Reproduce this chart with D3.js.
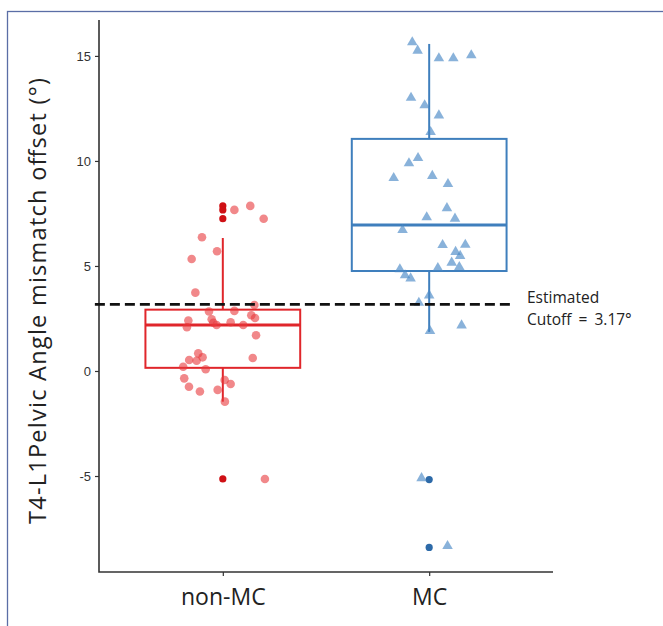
<!DOCTYPE html>
<html><head><meta charset="utf-8">
<script src="https://cdn.jsdelivr.net/npm/d3@7"></script>
<style>html,body{margin:0;padding:0;background:#fff;}svg{display:block;}</style>
</head><body>
<svg id="chart" width="663" height="626"></svg>
<script>
// ---------- data ----------
const categories = ["non-MC", "MC"];
const yTicks = [-5, 0, 5, 10, 15];
const cutoffValue = 3.17;
const cutoffLabel = ["Estimated", "Cutoff = 3.17\u00B0"];
const yLabel = "T4-L1Pelvic Angle mismatch offset (\u00B0)";

// box statistics [whiskerLow, q1, median, q3, whiskerHigh]
const boxNonMC = [-1.46, 0.15, 2.19, 2.92, 6.33];
const boxMC = [1.86, 4.76, 6.95, 11.05, 15.57];

// outliers (drawn at category centre)
const outliersNonMC = [7.86, 7.67, 7.25, -5.14];
const outliersMC = [-5.17, -8.40];

// jittered observations: x position on category axis (1 = non-MC, 2 = MC), value
const nonMCx = [1.056,1.133,1.198,0.899,0.972,0.849,0.867,1.153,0.933,1.056,1.138,1.156,0.833,0.826,0.946,0.954,0.970,1.038,1.099,1.161,0.881,0.902,0.837,0.873,1.145,0.808,0.917,0.813,1.009,1.038,0.836,0.889,0.975,1.010,1.204];
const nonMCy = [7.67,7.86,7.25,6.37,5.70,5.33,3.73,3.14,2.83,2.86,2.65,2.52,2.40,2.08,2.46,2.30,2.19,2.32,2.19,1.70,0.84,0.65,0.52,0.49,0.62,0.20,0.08,-0.35,-0.43,-0.62,-0.75,-0.98,-0.90,-1.46,-5.14];
const mcX = [1.918,1.944,2.047,2.117,2.204,1.912,1.978,2.047,2.007,1.946,1.902,1.828,2.015,2.091,2.086,1.988,2.125,1.871,2.065,2.175,2.128,2.150,2.109,2.146,2.042,1.858,1.883,1.910,2.000,1.950,2.157,2.004,1.963,2.089];
const mcY = [15.65,15.25,14.89,14.89,15.03,13.01,12.65,12.17,11.38,10.14,9.89,9.19,9.29,8.90,7.75,7.32,7.25,6.71,6.00,6.01,5.67,5.48,5.16,4.95,4.90,4.84,4.56,4.41,3.60,3.25,2.17,1.90,-5.10,-8.33];

// ---------- layout ----------
const svg = d3.select("#chart");
const pL = 99, pR = 553, pT = 20, pB = 572;
const x = d3.scaleLinear().domain([0.4, 2.6]).range([pL, pR]);
const y = d3.scaleLinear().domain([-9.57, 16.71]).range([pB, pT]);

const red = "#e0262b", redDark = "#cf1015", redFill = "#e8383c";
const blue = "#3f7fbd", blueDark = "#2d6aa8", blueFill = "#4a88c6";

// frame
svg.append("rect").attr("x", 7.5).attr("y", 11.5).attr("width", 800).attr("height", 800)
  .attr("fill", "none").attr("stroke", "#5b6ea6").attr("stroke-width", 1.3);

// axes
const yAxis = d3.axisLeft(y).tickValues(yTicks).tickSize(4).tickPadding(4).tickFormat((d) => String(d));
const gy = svg.append("g").attr("transform", `translate(${pL},0)`).call(yAxis);
gy.select(".domain").remove();
gy.selectAll(".tick line").attr("stroke", "#333").attr("stroke-width", 1.2);
gy.selectAll(".tick text").attr("fill", "#333").style("font-family", "'Liberation Sans', Arial, sans-serif").style("font-size", "13px");

const xAxis = d3.axisBottom(x).tickValues([1, 2]).tickSize(4).tickPadding(13).tickFormat((d) => categories[d - 1]);
const gx = svg.append("g").attr("transform", `translate(0,${pB})`).call(xAxis);
gx.select(".domain").remove();
gx.selectAll(".tick line").attr("stroke", "#333").attr("stroke-width", 1.2);
gx.selectAll(".tick text").attr("fill", "#222").style("font-family", "'Open Sans', sans-serif").style("font-size", "23px");

svg.append("path").attr("d", `M${pL},${pT}V${pB}H${pR}`)
  .attr("fill", "none").attr("stroke", "#333").attr("stroke-width", 1.6);

// y label
svg.append("text").attr("transform", `translate(46,301) rotate(-90)`)
  .attr("text-anchor", "middle").attr("fill", "#222")
  .attr("textLength", 446).attr("lengthAdjust", "spacing")
  .style("font-family", "'Open Sans', sans-serif").style("font-size", "23.5px").text(yLabel);

// boxes
function drawBox(cx, s, col) {
  const w = 0.75 / 2;
  const g = svg.append("g").attr("fill", "none").attr("stroke", col);
  g.append("line").attr("x1", x(cx)).attr("x2", x(cx)).attr("y1", y(s[3])).attr("y2", y(s[4])).attr("stroke-width", 2);
  g.append("line").attr("x1", x(cx)).attr("x2", x(cx)).attr("y1", y(s[0])).attr("y2", y(s[1])).attr("stroke-width", 2);
  g.append("rect").attr("x", x(cx - w)).attr("y", y(s[3])).attr("width", x(cx + w) - x(cx - w)).attr("height", y(s[1]) - y(s[3])).attr("stroke-width", 2);
  g.append("line").attr("x1", x(cx - w)).attr("x2", x(cx + w)).attr("y1", y(s[2])).attr("y2", y(s[2])).attr("stroke-width", 3.2);
}
drawBox(1, boxNonMC, red);
drawBox(2, boxMC, blue);

// outliers
svg.append("g").selectAll("circle").data(outliersNonMC).join("circle")
  .attr("cx", x(1)).attr("cy", (d) => y(d)).attr("r", 3.6).attr("fill", redDark);
svg.append("g").selectAll("circle").data(outliersMC).join("circle")
  .attr("cx", x(2)).attr("cy", (d) => y(d)).attr("r", 3.6).attr("fill", blueDark);

// jitter points
svg.append("g").selectAll("circle").data(nonMCy).join("circle")
  .attr("cx", (d, i) => x(nonMCx[i])).attr("cy", (d) => y(d)).attr("r", 4.3)
  .attr("fill", redFill).attr("fill-opacity", 0.6);
const tri = d3.symbol().type(d3.symbolTriangle).size(48);
svg.append("g").selectAll("path").data(mcY).join("path")
  .attr("transform", (d, i) => `translate(${x(mcX[i])},${y(d)})`).attr("d", tri)
  .attr("fill", blueFill).attr("fill-opacity", 0.65);

// cutoff line
svg.append("line").attr("x1", x(0.38)).attr("x2", x(2.415)).attr("y1", y(cutoffValue)).attr("y2", y(cutoffValue))
  .attr("stroke", "#111").attr("stroke-width", 2.6).attr("stroke-dasharray", "10,5");
svg.append("g").selectAll("text").data(cutoffLabel).join("text")
  .attr("x", 527).attr("y", (d, i) => y(cutoffValue) - 1 + i * 22)
  .attr("fill", "#222").style("font-family", "'Open Sans', sans-serif").style("font-size", "15.5px")
  .style("word-spacing", "3px").text((d) => d);
</script>
</body></html>
